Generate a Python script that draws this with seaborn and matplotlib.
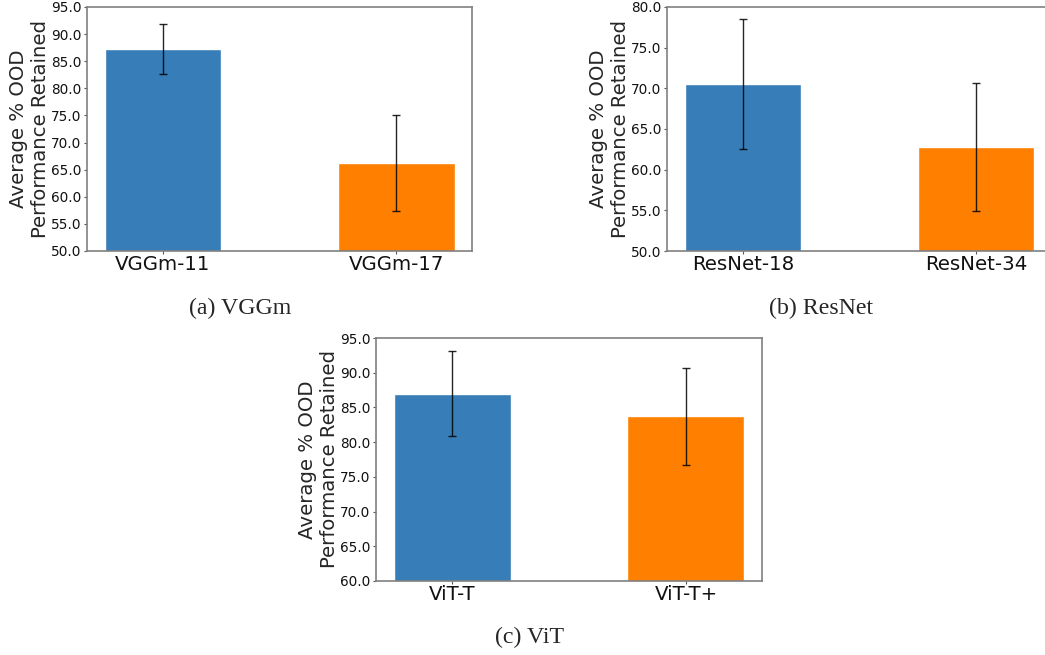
import matplotlib
matplotlib.use("Agg")
import matplotlib.pyplot as plt
from matplotlib.ticker import FormatStrFormatter, MultipleLocator
import seaborn as sns
import pandas as pd

# Average % OOD performance retained, with spread across runs
vggm_models = ["VGGm-11", "VGGm-17"]
vggm_means = [87.2, 66.25]
vggm_errs = [4.6, 8.85]

resnet_models = ["ResNet-18", "ResNet-34"]
resnet_means = [70.5, 62.8]
resnet_errs = [8.0, 7.9]

vit_models = ["ViT-T", "ViT-T+"]
vit_means = [87.0, 83.7]
vit_errs = [6.1, 7.0]

bar_colors = ["#377eb8", "#ff7f00"]
ylabel = "Average % OOD\nPerformance Retained"

sns.set_style("white")
plt.rcParams["font.family"] = ["DejaVu Sans"]

W, H = 1045, 655
fig = plt.figure(figsize=(W / 100, H / 100), dpi=100)


def px_axes(left, top, right, bottom):
    return fig.add_axes([left / W, 1 - bottom / H, (right - left) / W, (bottom - top) / H])


def panel(ax, models, means, errs, ylim, caption, cap_xy):
    df = pd.DataFrame({"model": models, "score": means})
    sns.barplot(data=df, x="model", y="score", hue="model", palette=bar_colors,
                saturation=1, width=0.5, legend=False, ax=ax, errorbar=None)
    ax.errorbar(range(len(models)), means, yerr=errs, fmt="none",
                ecolor="black", elinewidth=1.0, capsize=3, capthick=1.0, alpha=0.85)
    ax.set_xlim(-0.325, len(models) - 1 + 0.325)
    ax.set_ylim(*ylim)
    ax.yaxis.set_major_locator(MultipleLocator(5))
    ax.yaxis.set_major_formatter(FormatStrFormatter("%.1f"))
    ax.set_xlabel("")
    ax.set_ylabel(ylabel, fontsize=14.2, labelpad=0.5)
    ax.tick_params(axis="y", labelsize=9.8, length=2.5, width=0.8, color="#555555",
                   labelcolor="#111111", left=True, pad=1.5)
    ax.tick_params(axis="x", labelsize=14.2, length=2.5, width=0.8, color="#555555",
                   labelcolor="#111111", bottom=True, pad=0.5)
    for s in ax.spines.values():
        s.set_visible(True)
        s.set_color("#808080")
        s.set_linewidth(1.2)
    fig.text(cap_xy[0] / W, 1 - cap_xy[1] / H, caption, ha="center", va="center",
             fontsize=17.2, family="Liberation Serif")


ax_a = px_axes(87, 7, 472, 251)
panel(ax_a, vggm_models, vggm_means, vggm_errs, (50, 95), "(a) VGGm", (240, 308))

ax_b = px_axes(667, 7, 1052, 251)
panel(ax_b, resnet_models, resnet_means, resnet_errs, (50, 80), "(b) ResNet", (821, 308))

ax_c = px_axes(376, 338, 762, 581)
panel(ax_c, vit_models, vit_means, vit_errs, (60, 95), "(c) ViT", (530, 637))

fig.savefig("out.png", dpi=100)
